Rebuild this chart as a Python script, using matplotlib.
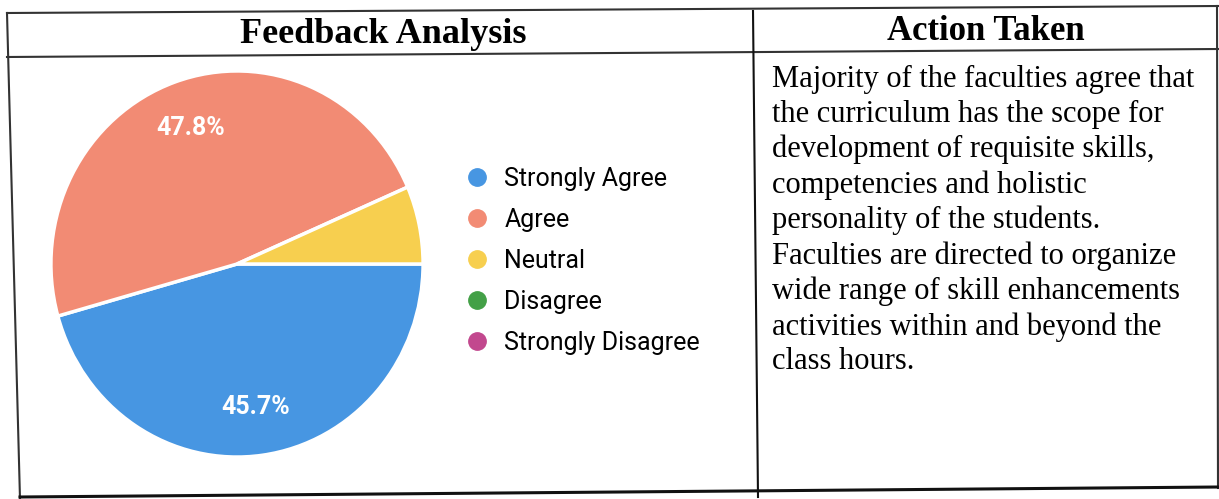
import matplotlib.pyplot as plt
from matplotlib.lines import Line2D

# feedback counts (21/46, 22/46, 3/46)
categories = ["Strongly Agree", "Agree", "Neutral", "Disagree", "Strongly Disagree"]
counts = [21, 22, 3, 0, 0]
colors = ["#4796e2", "#f28b74", "#f7cf4f", "#43a047", "#c2488e"]

header_left = "Feedback Analysis"
header_right = "Action Taken"
action_lines = [
    "Majority of the faculties agree that",
    "the curriculum has the scope for",
    "development of requisite skills,",
    "competencies and holistic",
    "personality of the students.",
    "Faculties are directed to organize",
    "wide range of skill enhancements",
    "activities within and beyond the",
    "class hours.",
]

W, H = 1219, 499
fig = plt.figure(figsize=(W / 100, H / 100), dpi=100)

# overlay axes in pixel coords for the table
ax = fig.add_axes([0, 0, 1, 1])
ax.set_xlim(0, W)
ax.set_ylim(H, 0)
ax.axis("off")

lc = "#333333"
ax.plot([7, 1219], [13, 6], color=lc, lw=1.5)        # top
ax.plot([7, 1219], [57, 49], color=lc, lw=1.5)       # header bottom
ax.plot([7, 20], [13, 499], color=lc, lw=1.5)        # left
ax.plot([753, 758], [11, 497], color="#111111", lw=1.5)  # divider
ax.plot([1217, 1218], [6, 488], color=lc, lw=1.5)    # right
ax.plot([20, 1219], [497, 487], color="#111111", lw=2.2)  # bottom

ax.text(383, 34, header_left, fontsize=26, fontweight="bold",
        family="Liberation Serif", ha="center", va="center")
ax.text(986, 31, header_right, fontsize=25, fontweight="bold",
        family="Liberation Serif", ha="center", va="center")

ax.text(772, 65, "\n".join(action_lines), fontsize=22,
        family="Liberation Serif", ha="left", va="top", linespacing=1.265)

# pie (scan is slightly taller than wide)
rx, ry = 187, 194
cx, cy = 237, 264
pax = fig.add_axes([(cx - rx) / W, (H - cy - ry) / H, 2 * rx / W, 2 * ry / H])
vals = [v for v in counts if v > 0]
cols = [c for v, c in zip(counts, colors) if v > 0]
wedges, _, autotexts = pax.pie(
    vals, colors=cols, startangle=0, counterclock=False,
    autopct=lambda p: f"{p:.1f}%" if p > 10 else "",
    pctdistance=0.75, radius=1,
    wedgeprops=dict(edgecolor="white", linewidth=2.5),
    textprops=dict(color="white", fontsize=18, fontweight="bold", family="Roboto"),
)
pax.set_aspect("auto")
pax.set_xlim(-1.005, 1.005)
pax.set_ylim(-1.005, 1.005)

handles = [Line2D([], [], marker="o", linestyle="", markersize=12.5,
                  markerfacecolor=c, markeredgecolor=c) for c in colors]
fig.legend(handles, categories, loc="upper left",
           bbox_to_anchor=(462 / W, 1 - 167 / H), frameon=False,
           prop=dict(family="Roboto", size=18),
           borderaxespad=0, borderpad=0,
           labelspacing=0.68, handletextpad=0.5, handlelength=1.2)

fig.savefig("out.png", dpi=100)
